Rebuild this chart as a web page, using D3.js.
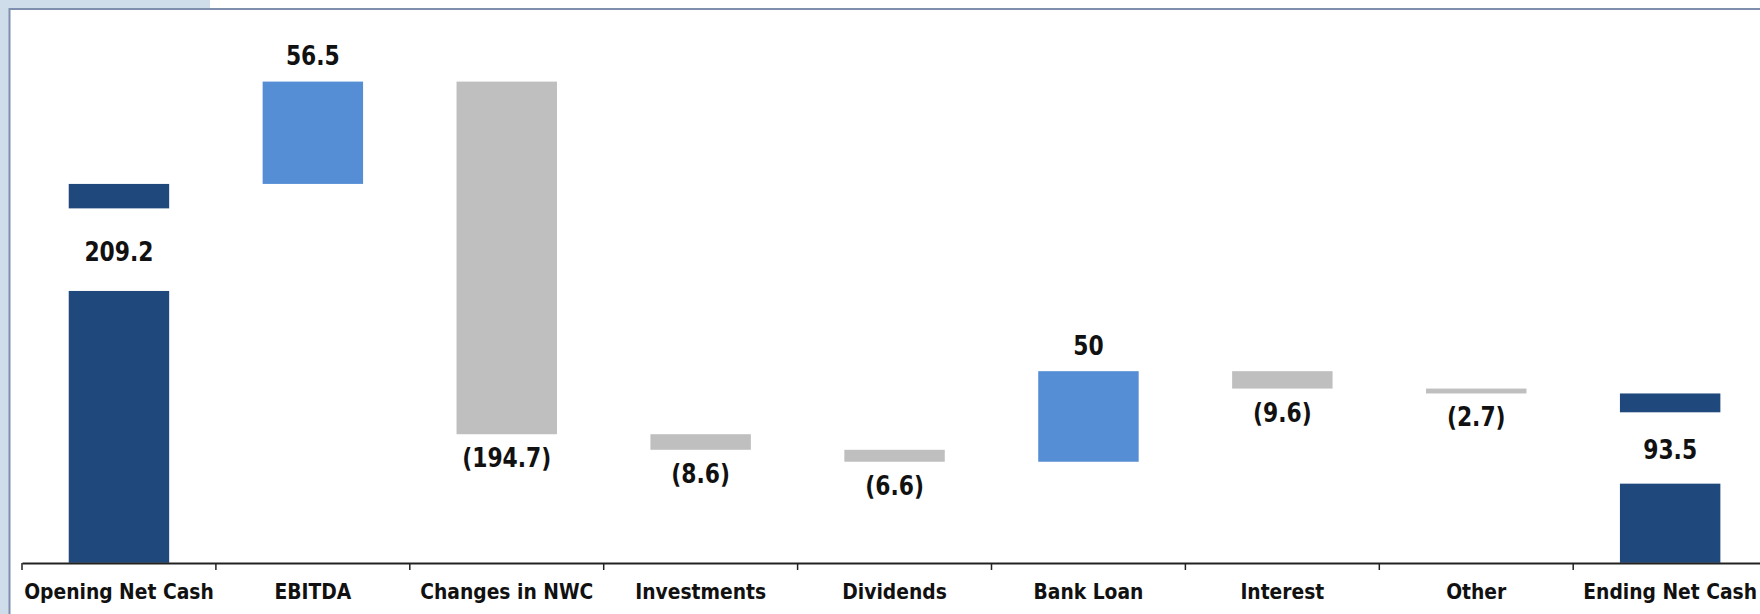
<!DOCTYPE html>
<html>
<head>
<meta charset="utf-8">
<script src="https://cdn.jsdelivr.net/npm/d3@7"></script>
<style>
  html, body { margin: 0; padding: 0; background: #ffffff; }
  svg { display: block; }
</style>
</head>
<body>
<svg id="chart" width="1760" height="614"></svg>
<script>
// Cash bridge: opening net cash, movements, ending net cash
const categories = ["Opening Net Cash", "EBITDA", "Changes in NWC", "Investments",
                    "Dividends", "Bank Loan", "Interest", "Other", "Ending Net Cash"];
const values = [209.2, 56.5, -194.7, -8.6, -6.6, 50, -9.6, -2.7, 93.5];
const kinds  = ["total", "up", "down", "down", "down", "up", "down", "down", "total"];
// Value ranges left out of each total bar to make room for its label
const totalGaps = [[150.1, 195.7], [43.7, 83.1]];

const W = 1760, H = 614;
const svg = d3.select("#chart");

const colors = { total: "#1f497d", up: "#558ed5", down: "#bfbfbf" };

// Frame
svg.append("rect").attr("x", 0).attr("y", 0).attr("width", 9).attr("height", H).attr("fill", "#cfdcea");
svg.append("rect").attr("x", 0).attr("y", 0).attr("width", 210).attr("height", 8).attr("fill", "#cfdcea");
svg.append("line").attr("x1", 9.5).attr("x2", 9.5).attr("y1", 8).attr("y2", H)
  .attr("stroke", "#7f90ae").attr("stroke-width", 2);
svg.append("line").attr("x1", 9).attr("x2", W).attr("y1", 9).attr("y2", 9)
  .attr("stroke", "#7f90ae").attr("stroke-width", 2);

// Scales
const x0 = 22, step = 193.9;
const xCat = d3.scaleBand().domain(categories).range([x0, x0 + step * categories.length]).padding(0);
const x = d3.scaleBand().domain(categories).range(xCat.range())
  .paddingInner(0.482).paddingOuter(0.241);
const y = d3.scaleLinear().domain([0, 280]).range([562.8, 55.7]);

// Waterfall geometry
let running = 0, gi = 0;
const bars = categories.map((c, i) => {
  const v = values[i];
  if (kinds[i] === "total") {
    running = v;
    return { c, v, kind: "total", lo: 0, hi: v, gap: totalGaps[gi++] };
  }
  const start = running;
  running += v;
  return { c, v, kind: kinds[i], lo: Math.min(start, running), hi: Math.max(start, running) };
});

const fmt = v => v < 0 ? `(${-v})` : `${v}`;

const g = svg.append("g");
bars.forEach(b => {
  const bx = x(b.c), bw = x.bandwidth();
  if (b.kind === "total") {
    g.append("rect").attr("x", bx).attr("width", bw)
      .attr("y", y(b.hi)).attr("height", y(b.gap[1]) - y(b.hi)).attr("fill", colors.total);
    g.append("rect").attr("x", bx).attr("width", bw)
      .attr("y", y(b.gap[0])).attr("height", y(0) - y(b.gap[0])).attr("fill", colors.total);
  } else {
    g.append("rect").attr("x", bx).attr("width", bw)
      .attr("y", y(b.hi)).attr("height", y(b.lo) - y(b.hi)).attr("fill", colors[b.kind]);
  }
});

// Value labels
const lbl = svg.append("g")
  .attr("font-family", "'DejaVu Sans Condensed', 'DejaVu Sans', sans-serif")
  .attr("font-weight", "bold").attr("font-size", 27).attr("fill", "#111");
bars.forEach(b => {
  const cx = x(b.c) + x.bandwidth() / 2;
  let by;
  if (b.kind === "total") by = (y(b.gap[0]) + y(b.gap[1])) / 2 + 11;
  else if (b.kind === "up") by = y(b.hi) - 16.5;
  else by = y(b.lo) + 33;
  lbl.append("text").attr("text-anchor", "middle")
    .attr("transform", `translate(${cx},${by}) scale(0.9,1)`)
    .text(fmt(b.v));
});

// Category axis
const axis = svg.append("g").attr("transform", `translate(0,${563})`)
  .call(d3.axisBottom(xCat).tickSize(0).tickSizeOuter(0).tickPadding(21));
axis.select(".domain").attr("stroke", "#222").attr("stroke-width", 2);
axis.selectAll("text")
  .attr("font-family", "'DejaVu Sans Condensed', 'DejaVu Sans', sans-serif")
  .attr("font-weight", "bold").attr("font-size", 20.8).attr("fill", "#111");
// Separator ticks between categories
axis.selectAll(".sep").data(categories).enter().append("line")
  .attr("class", "sep")
  .attr("x1", d => xCat(d)).attr("x2", d => xCat(d))
  .attr("y1", 0).attr("y2", 7)
  .attr("stroke", "#222").attr("stroke-width", 1.5);
</script>
</body>
</html>
